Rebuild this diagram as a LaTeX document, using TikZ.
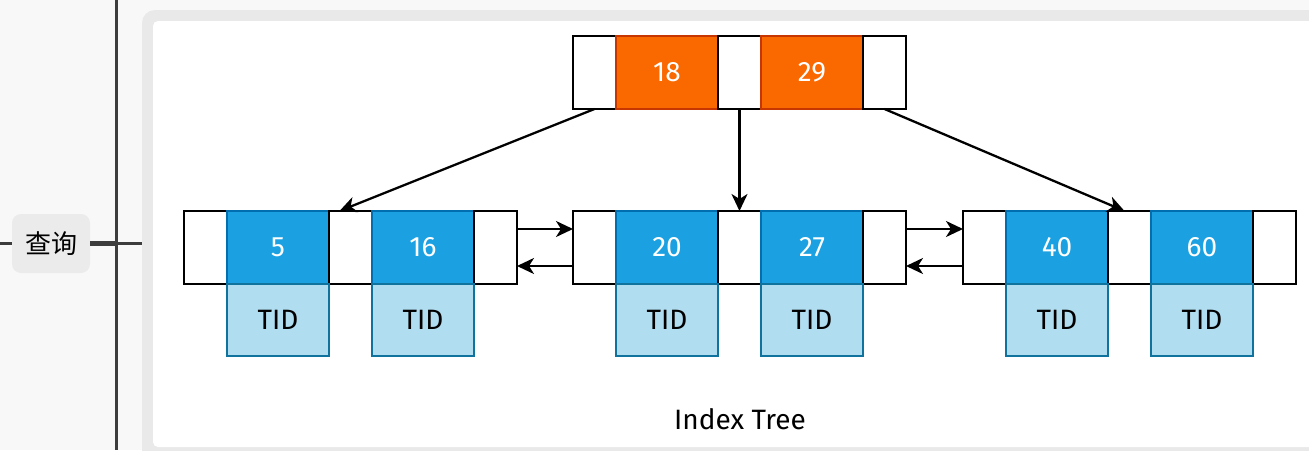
\documentclass[tikz,border=0pt]{standalone}
\usepackage{fontspec}
\setmainfont{Fira Sans}
\newfontfamily\cjk{Noto Sans CJK SC}
\usetikzlibrary{positioning, arrows.meta}

\definecolor{keyorange}{HTML}{FA6800}
\definecolor{keyorangeline}{HTML}{C73500}
\definecolor{keyblue}{HTML}{1BA1E2}
\definecolor{keyblueline}{HTML}{006EAF}
\definecolor{tidblue}{HTML}{B1DDF0}
\definecolor{tidline}{HTML}{10739E}
\definecolor{pagegray}{HTML}{F8F8F8}
\definecolor{cardgray}{HTML}{E9E9E9}
\definecolor{mapline}{HTML}{3D3D3D}
\definecolor{topicgray}{HTML}{EBEBEB}

\tikzset{
  cell/.style={draw, line width=2.5pt, minimum height=73pt, inner sep=0pt, outer sep=0pt},
  ptrcell/.style={cell, fill=white, minimum width=43pt},
  keycell/.style={cell, minimum width=102pt, text=white, font=\fontsize{28}{32}\selectfont},
  rootkey/.style={keycell, fill=keyorange, draw=keyorangeline},
  leafkey/.style={keycell, fill=keyblue, draw=keyblueline},
  tidcell/.style={cell, fill=tidblue, draw=tidline, minimum width=102pt, minimum height=72pt, font=\fontsize{28}{32}\selectfont},
  link/.style={line width=2.3pt, -{Stealth[length=17pt, width=16pt, inset=5pt]}},
  topic/.style={fill=topicgray, rounded corners=9pt, minimum width=78pt, minimum height=59pt, inner sep=0pt, font=\fontsize{26}{30}\selectfont}
}

\begin{document}
\begin{tikzpicture}[x=1pt, y=-1pt]
  \useasboundingbox (0,0) rectangle (1309,450);
  \clip (0,0) rectangle (1309,450);
  \fill[pagegray] (0,0) rectangle (1309,450);

  % mind map branch
  \coordinate (spinetop) at (116,0);
  \coordinate (spinebot) at (116,450);
  \coordinate (leftedge) at (0,243.5);
  \coordinate (spinemid) at (116,243.5);
  \coordinate (cardedge) at (142,243.5);
  \draw[mapline, line width=3pt] (spinetop) -- (spinebot);
  \node[topic] (query) at (51,243.5) {\cjk 查询};
  \draw[mapline, line width=3pt] (leftedge) -- (query.west);
  \draw[mapline, line width=4.5pt] (query.east) -- (spinemid);
  \draw[mapline, line width=3pt] (spinemid) -- (cardedge);

  % card
  \fill[cardgray, rounded corners=13pt] (142,10) rectangle (1340,470);
  \fill[white, rounded corners=5pt] (153,21) rectangle (1340,447);

  % root node
  \node[ptrcell, anchor=north west] (r0) at (573,36) {};
  \node[rootkey, right=0pt of r0] (k18) {18};
  \node[ptrcell, right=0pt of k18] (r1) {};
  \node[rootkey, right=0pt of r1] (k29) {29};
  \node[ptrcell, right=0pt of k29] (r2) {};

  % left leaf
  \node[ptrcell, anchor=north west] (a0) at (184,211) {};
  \node[leafkey, right=0pt of a0] (k5) {5};
  \node[ptrcell, right=0pt of k5] (a1) {};
  \node[leafkey, right=0pt of a1] (k16) {16};
  \node[ptrcell, right=0pt of k16] (a2) {};
  \node[tidcell, below=0pt of k5] (t5) {TID};
  \node[tidcell, below=0pt of k16] (t16) {TID};

  % middle leaf
  \node[ptrcell, anchor=north west] (b0) at (573,211) {};
  \node[leafkey, right=0pt of b0] (k20) {20};
  \node[ptrcell, right=0pt of k20] (b1) {};
  \node[leafkey, right=0pt of b1] (k27) {27};
  \node[ptrcell, right=0pt of k27] (b2) {};
  \node[tidcell, below=0pt of k20] (t20) {TID};
  \node[tidcell, below=0pt of k27] (t27) {TID};

  % right leaf
  \node[ptrcell, anchor=north west] (c0) at (963,211) {};
  \node[leafkey, right=0pt of c0] (k40) {40};
  \node[ptrcell, right=0pt of k40] (c1) {};
  \node[leafkey, right=0pt of c1] (k60) {60};
  \node[ptrcell, right=0pt of k60] (c2) {};
  \node[tidcell, below=0pt of k40] (t40) {TID};
  \node[tidcell, below=0pt of k60] (t60) {TID};

  % pointers
  \draw[link] (r0.south) -- ([xshift=-11pt]a1.north);
  \draw[link] (r1.south) -- (b1.north);
  \draw[link] (r2.south) -- ([xshift=-5pt]c1.north);
  \draw[link] ([yshift=18.5pt]a2.east) -- ([yshift=18.5pt]b0.west);
  \draw[link] ([yshift=-18.5pt]b0.west) -- ([yshift=-18.5pt]a2.east);
  \draw[link] ([yshift=18.5pt]b2.east) -- ([yshift=18.5pt]c0.west);
  \draw[link] ([yshift=-18.5pt]c0.west) -- ([yshift=-18.5pt]b2.east);

  \node[font=\fontsize{28}{32}\selectfont] (title) at (740,419) {Index Tree};
\end{tikzpicture}
\end{document}
